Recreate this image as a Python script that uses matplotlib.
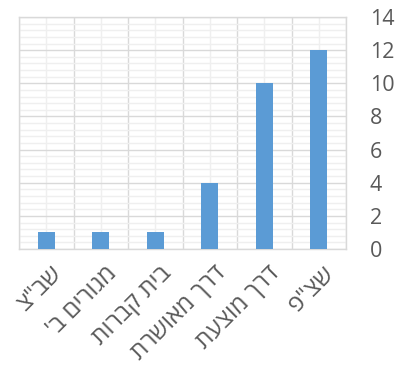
import matplotlib
matplotlib.use("Agg")
import matplotlib.pyplot as plt
import numpy as np
from matplotlib.ticker import MultipleLocator

categories = ['שב"צ', "מגורים ב'", "בית קברות", "דרך מאושרת", "דרך מוצעת", 'שצ"פ']
values = [1, 1, 1, 4, 10, 12]
yticks = [0, 2, 4, 6, 8, 10, 12, 14]

plt.rcParams['font.family'] = ['Open Sans', 'DejaVu Sans']

fig = plt.figure(figsize=(3.96, 3.67), dpi=100)
ax = fig.add_axes([0.048, 0.3215, 0.826, 0.632])

x = np.arange(len(categories))
ax.bar(x, values, width=0.31, color='#5B9BD5', zorder=3)

ax.set_xlim(-0.5, len(categories) - 0.5)
ax.set_ylim(0, 14)
ax.set_yticks(yticks)
ax.yaxis.set_minor_locator(MultipleLocator(0.4))
ax.set_xticks(np.arange(-0.5, len(categories), 1.0))
ax.set_xticks(x, minor=True)
ax.set_xticklabels([])

ax.grid(which='major', color='#D9D9D9', linewidth=1.0, zorder=1)
ax.grid(which='minor', color='#EFEFEF', linewidth=1.0, zorder=0)
ax.set_axisbelow(True)

ax.yaxis.tick_right()
ax.tick_params(axis='y', which='both', length=0, labelsize=15.5, labelcolor='#595959', pad=17)
ax.tick_params(axis='x', which='both', length=0)

for xi, lab in zip(x, categories):
    ax.text(xi + 0.07, -0.75, lab[::-1], rotation=45, ha='right', va='top',
            rotation_mode='anchor', fontsize=17.5, color='#595959',
            transform=ax.transData)

for s in ax.spines.values():
    s.set_color('#D9D9D9')
    s.set_linewidth(1.0)

fig.savefig('out.png', dpi=100)
